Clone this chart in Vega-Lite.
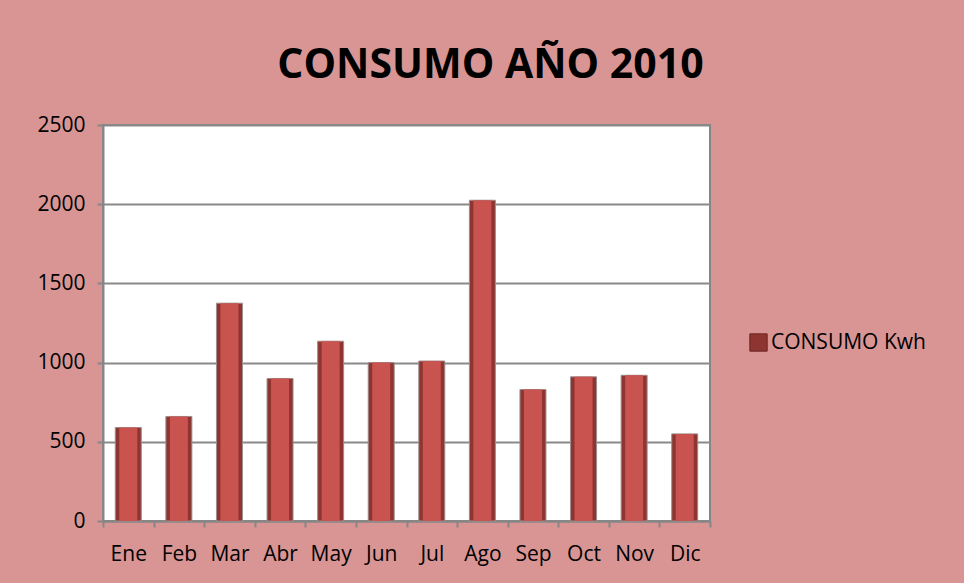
{
  "$schema": "https://vega.github.io/schema/vega-lite/v6.json",
  "autosize": {"type": "none"},
  "width": 607,
  "height": 396,
  "padding": {"left": 103, "top": 125, "right": 254, "bottom": 62},
  "background": "#D99594",
  "title": {
    "text": "CONSUMO AÑO 2010",
    "font": "Open Sans",
    "fontSize": 41,
    "fontWeight": "bold",
    "color": "#000000",
    "anchor": "middle",
    "frame": "group",
    "dx": 84,
    "offset": 27
  },
  "data": {
    "values": [
      {"mes": "Ene", "consumo": 590, "serie": "CONSUMO Kwh"},
      {"mes": "Feb", "consumo": 660, "serie": "CONSUMO Kwh"},
      {"mes": "Mar", "consumo": 1375, "serie": "CONSUMO Kwh"},
      {"mes": "Abr", "consumo": 900, "serie": "CONSUMO Kwh"},
      {"mes": "May", "consumo": 1135, "serie": "CONSUMO Kwh"},
      {"mes": "Jun", "consumo": 1000, "serie": "CONSUMO Kwh"},
      {"mes": "Jul", "consumo": 1010, "serie": "CONSUMO Kwh"},
      {"mes": "Ago", "consumo": 2025, "serie": "CONSUMO Kwh"},
      {"mes": "Sep", "consumo": 830, "serie": "CONSUMO Kwh"},
      {"mes": "Oct", "consumo": 910, "serie": "CONSUMO Kwh"},
      {"mes": "Nov", "consumo": 920, "serie": "CONSUMO Kwh"},
      {"mes": "Dic", "consumo": 550, "serie": "CONSUMO Kwh"}
    ]
  },
  "encoding": {
    "x": {
      "field": "mes",
      "type": "nominal",
      "sort": null,
      "title": null,
      "scale": {"paddingInner": 0, "paddingOuter": 0},
      "axis": {
        "labelAngle": 0,
        "labelFont": "Open Sans",
        "labelFontSize": 21,
        "labelColor": "#000000",
        "labelPadding": 16,
        "domainColor": "#868686",
        "domainWidth": 2,
        "tickColor": "#868686",
        "tickWidth": 2,
        "tickSize": 6,
        "tickBand": "extent",
        "grid": false
      }
    },
    "y": {
      "field": "consumo",
      "type": "quantitative",
      "title": null,
      "scale": {"domain": [0, 2500], "nice": false},
      "axis": {
        "values": [0, 500, 1000, 1500, 2000, 2500],
        "format": "d",
        "labelFont": "Open Sans",
        "labelFontSize": 21,
        "labelColor": "#000000",
        "labelPadding": 12,
        "domainColor": "#868686",
        "domainWidth": 2,
        "tickColor": "#868686",
        "tickWidth": 2,
        "tickSize": 6,
        "grid": true,
        "gridColor": "#898989",
        "gridWidth": 2
      }
    }
  },
  "layer": [
    {
      "mark": {"type": "bar", "size": 26, "stroke": "#9e8e8e", "strokeWidth": 1},
      "encoding": {
        "color": {
          "field": "serie",
          "type": "nominal",
          "scale": {"range": ["#8E3532"]},
          "legend": {
            "title": null,
            "orient": "none",
            "legendX": 645,
            "legendY": 207,
            "symbolType": "square",
            "symbolSize": 300,
            "symbolStrokeColor": "#6b2321",
            "symbolStrokeWidth": 1,
            "labelFont": "Open Sans",
            "labelFontSize": 21,
            "labelColor": "#000000",
            "labelOffset": 2
          }
        }
      }
    },
    {
      "mark": {"type": "bar", "size": 18, "color": "#C9534F"},
      "encoding": {}
    }
  ],
  "config": {
    "view": {"fill": "#FFFFFF", "stroke": "#868686", "strokeWidth": 2}
  }
}
